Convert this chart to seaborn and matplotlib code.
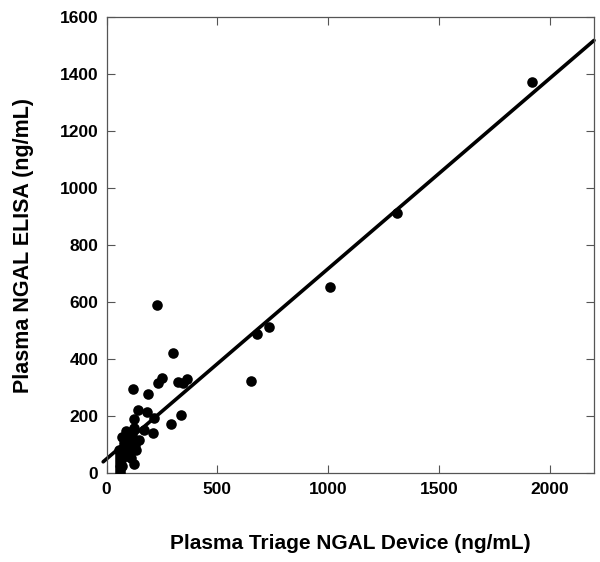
import matplotlib
matplotlib.use('Agg')
import matplotlib.pyplot as plt
import numpy as np
import pandas as pd
import seaborn as sns

sns.set_style('ticks')
plt.rcParams['font.family'] = ['Liberation Sans', 'DejaVu Sans']
plt.rcParams['font.weight'] = 'bold'
plt.rcParams['text.color'] = 'black'
plt.rcParams['axes.labelcolor'] = 'black'
plt.rcParams['xtick.labelcolor'] = 'black'
plt.rcParams['ytick.labelcolor'] = 'black'

# Triage device vs ELISA (ng/mL)
triage = [1919, 1311, 1009, 734, 678, 654,
          226, 298, 252, 231, 324, 364, 344, 334,
          120, 187, 142, 183, 123, 213, 293, 211, 170, 126, 88, 71, 109,
          147, 100, 74, 118, 135, 106, 83, 126, 95, 115, 90, 130, 80,
          60, 60, 60, 60, 60, 60, 60, 60, 55, 65, 70, 100, 112]
elisa = [1373, 914, 654, 512, 489, 323,
         589, 420, 333, 317, 321, 329, 316, 204,
         295, 277, 220, 216, 191, 192, 172, 141, 151, 157, 147, 126, 126,
         116, 101, 88, 94, 82, 73, 65, 31, 110, 135, 60, 100, 105,
         0, 10, 20, 30, 40, 50, 60, 70, 80, 45, 25, 85, 55]

# regression line
intercept = 50
slope = 0.667
line_x = np.array([-15, 2200])

df = pd.DataFrame({'triage': triage, 'elisa': elisa})

fig = plt.figure(figsize=(6, 5.62), dpi=100)
ax = fig.add_axes([0.1775, 0.158, 0.8125, 0.812])

sns.scatterplot(data=df, x='triage', y='elisa', ax=ax, color='black',
                s=58, edgecolor='black', linewidth=0, zorder=3)
ax.plot(line_x, intercept + slope * line_x, color='black', lw=2.6,
        clip_on=False, zorder=2)

ax.set_xlim(0, 2200)
ax.set_ylim(0, 1600)
ax.set_xticks([0, 500, 1000, 1500, 2000])
ax.set_yticks(range(0, 1601, 200))
ax.tick_params(direction='in', top=True, right=True, length=6, width=0.8,
               color='#555555', labelsize=12.5, pad=6)
for s in ax.spines.values():
    s.set_color('#555555')
    s.set_linewidth(0.9)

ax.set_xlabel('Plasma Triage NGAL Device (ng/mL)', fontsize=15,
              fontweight='bold', labelpad=27)
ax.set_ylabel('Plasma NGAL ELISA (ng/mL)', fontsize=15.5,
              fontweight='bold', labelpad=18)

fig.savefig('out.png', dpi=100)
